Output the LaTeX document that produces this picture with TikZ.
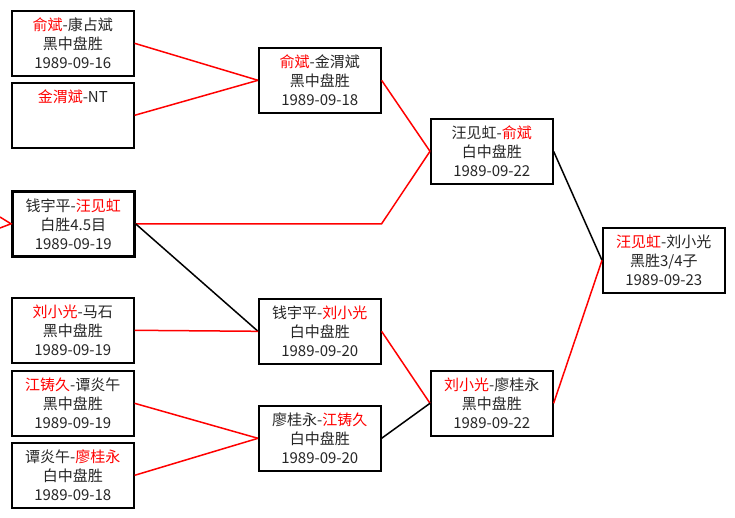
\documentclass[tikz,border=0pt]{standalone}
\usepackage{fontspec}
\newfontfamily\cjk{Noto Sans CJK SC}
\newcommand\win[1]{\textcolor{red}{#1}}
\tikzset{
  game/.style={draw, line width=1.6pt, anchor=north west, minimum width=122pt, minimum height=65pt, inner sep=0pt, align=center, text=black!85, font=\cjk\fontsize{15}{19}\selectfont},
  won/.style={red, line width=1.5pt},
  lost/.style={black, line width=1.5pt}
}
\begin{document}
\begin{tikzpicture}[x=1pt, y=-1pt]
\useasboundingbox (0,0) rectangle (735,517);
\fill[white] (0,0) rectangle (735,517);
\node[game] (a) at (11,10) {\win{俞斌}-康占斌\\黑中盘胜\\1989-09-16};
\node[game] (b) at (11,82) {\win{金渭斌}-NT\\\phantom{黑}\\\phantom{1}};
\node[game, line width=2.6pt] (c) at (11,190) {钱宇平-\win{汪见虹}\\白胜4.5目\\1989-09-19};
\node[game] (d) at (11,297) {\win{刘小光}-马石\\黑中盘胜\\1989-09-19};
\node[game] (e) at (11,370) {\win{江铸久}-谭炎午\\黑中盘胜\\1989-09-19};
\node[game] (f) at (11,442) {谭炎午-\win{廖桂永}\\白中盘胜\\1989-09-18};
\node[game] (g) at (258,47) {\win{俞斌}-金渭斌\\黑中盘胜\\1989-09-18};
\node[game] (h) at (258,298) {钱宇平-\win{刘小光}\\白中盘胜\\1989-09-20};
\node[game] (i) at (258,405) {廖桂永-\win{江铸久}\\白中盘胜\\1989-09-20};
\node[game] (j) at (430,118) {汪见虹-\win{俞斌}\\白中盘胜\\1989-09-22};
\node[game] (k) at (430,370) {\win{刘小光}-廖桂永\\黑中盘胜\\1989-09-22};
\node[game] (l) at (602,227) {\win{汪见虹}-刘小光\\黑胜3/4子\\1989-09-23};
\coordinate (in1) at (0,217);
\coordinate (in2) at (0,228);
\draw[won] (in1) -- (c.west) -- (in2);
\draw[won] (a.east) -- (g.west);
\draw[won] (b.east) -- (g.west);
\draw[won] (c.east) -- (g.east |- c.east) -- (j.west);
\draw[lost] (c.east) -- (h.west);
\draw[won] (d.east) -- (h.west);
\draw[won] (e.east) -- (i.west);
\draw[won] (f.east) -- (i.west);
\draw[won] (g.east) -- (j.west);
\draw[won] (h.east) -- (k.west);
\draw[lost] (i.east) -- (k.west);
\draw[lost] (j.east) -- (l.west);
\draw[won] (k.east) -- (l.west);
\end{tikzpicture}
\end{document}
